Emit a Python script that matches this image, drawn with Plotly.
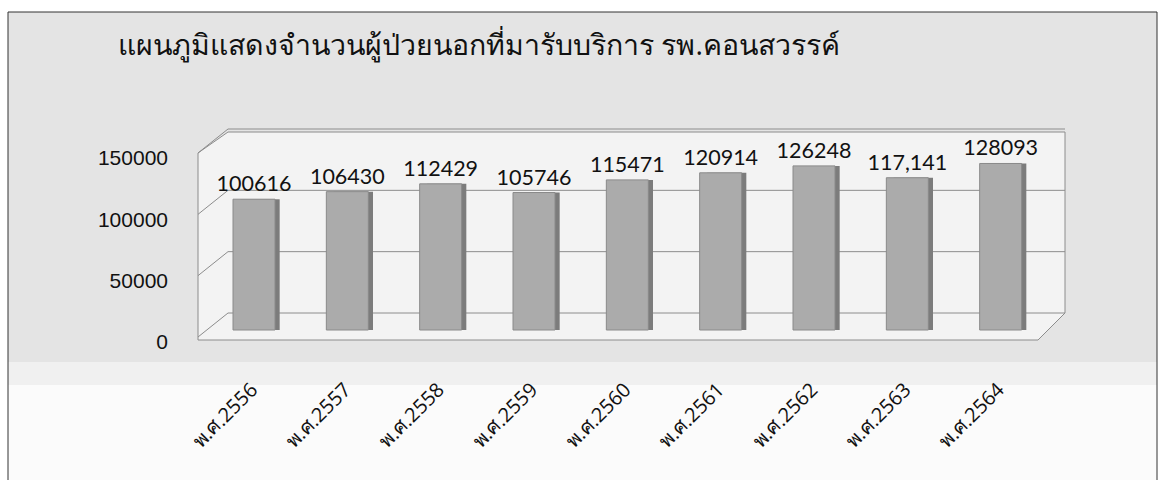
import plotly.graph_objects as go

# ---- data ----
categories = ["พ.ศ.2556", "พ.ศ.2557", "พ.ศ.2558", "พ.ศ.2559", "พ.ศ.2560",
              "พ.ศ.2561", "พ.ศ.2562", "พ.ศ.2563", "พ.ศ.2564"]
patients = [100616, 106430, 112429, 105746, 115471, 120914, 126248, 117141, 128093]
value_labels = ["100616", "106430", "112429", "105746", "115471",
                "120914", "126248", "117,141", "128093"]
y_tick_values = [0, 50000, 100000, 150000]
y_tick_labels = ["0", "50000", "100000", "150000"]
title_text = "แผนภูมิแสดงจำนวนผู้ป่วยนอกที่มารับบริการ รพ.คอนสวรรค์"

W, H = 1159, 480
def X(px): return px / W
def Y(py): return 1 - py / H

# plot area in pixels
x_left, x_right = 205, 1045
y_top, y_bottom = 120, 345

# scales (px per unit)
k_bar = 0.0013
k_axis = 184 / 150000
bar_zero, tick_zero, grid_zero = 330, 342, 313
bar_range = [-(y_bottom - bar_zero) / k_bar, (bar_zero - y_top) / k_bar]
tick_range = [-(y_bottom - tick_zero) / k_axis, (tick_zero - y_top) / k_axis]
grid_range = [-(y_bottom - grid_zero) / k_axis, (grid_zero - y_top) / k_axis]

fig = go.Figure()

# side face of 3D bars
fig.add_trace(go.Bar(
    x=categories, y=patients, width=0.42, offset=-0.12,
    marker=dict(color="#7c7c7c", line=dict(width=0)),
    hoverinfo="skip", showlegend=False,
))
# front face
fig.add_trace(go.Bar(
    x=categories, y=patients, width=0.45, offset=-0.2,
    marker=dict(color="#ababab", line=dict(color="#8a8a8a", width=1)),
    text=value_labels, textposition="outside", cliponaxis=False,
    constraintext="none",
    textfont=dict(family="Lato", size=21.5, color="#111111"),
    showlegend=False,
))
# invisible trace holding the tick axis
fig.add_trace(go.Scatter(
    x=[categories[0], categories[0]], y=[y_tick_values[0], y_tick_values[-1]],
    yaxis="y2", mode="markers", marker=dict(opacity=0), hoverinfo="skip",
    showlegend=False,
))
# invisible trace holding the grid axis
fig.add_trace(go.Scatter(
    x=[categories[0], categories[0]], y=[y_tick_values[0], y_tick_values[-1]],
    yaxis="y3", mode="markers", marker=dict(opacity=0), hoverinfo="skip",
    showlegend=False,
))

shapes = []
# figure background with border
shapes.append(dict(type="rect", xref="paper", yref="paper",
                   x0=X(8), x1=X(1157), y0=Y(362), y1=Y(12),
                   fillcolor="#e4e4e4", line=dict(width=0), layer="below"))
shapes.append(dict(type="rect", xref="paper", yref="paper",
                   x0=X(8), x1=X(1157), y0=Y(385), y1=Y(362),
                   fillcolor="#f0f0f0", line=dict(width=0), layer="below"))
shapes.append(dict(type="rect", xref="paper", yref="paper",
                   x0=X(8), x1=X(1157), y0=Y(480), y1=Y(385),
                   fillcolor="#fbfbfb", line=dict(width=0), layer="below"))
shapes.append(dict(type="path", xref="paper", yref="paper",
                   path=f"M{X(8)},{Y(482)} L{X(8)},{Y(12)} L{X(1157)},{Y(12)} L{X(1157)},{Y(482)}",
                   line=dict(color="#333333", width=1), layer="above"))
# 3D wall / floor
wall = (f"M{X(198)},{Y(340)} L{X(198)},{Y(153)} L{X(228)},{Y(132)} "
        f"L{X(1065)},{Y(132)} L{X(1065)},{Y(313)} L{X(1038)},{Y(340)} Z")
shapes.append(dict(type="path", xref="paper", yref="paper", path=wall,
                   fillcolor="#f3f3f3", line=dict(color="#8c8c8c", width=1), layer="below"))
# back wall gridlines (through y3 scale) and their left-wall diagonals
drop = 24 / k_axis
for v in y_tick_values:
    shapes.append(dict(type="line", xref="paper", yref="y3",
                       x0=X(228), x1=X(1065), y0=v, y1=v,
                       line=dict(color="#8c8c8c", width=1), layer="below"))
    shapes.append(dict(type="line", xref="paper", yref="y3",
                       x0=X(198), x1=X(228), y0=v - drop, y1=v,
                       line=dict(color="#8c8c8c", width=1), layer="below"))
# floor back-to-front edge on the right
shapes.append(dict(type="line", xref="paper", yref="paper",
                   x0=X(1038), x1=X(1065), y0=Y(340), y1=Y(313),
                   line=dict(color="#8c8c8c", width=1), layer="below"))

fig.update_layout(
    width=W, height=H,
    margin=dict(l=0, r=0, t=0, b=0, autoexpand=False),
    paper_bgcolor="white",
    plot_bgcolor="rgba(0,0,0,0)",
    barmode="overlay",
    shapes=shapes,
    title=dict(text=title_text, x=X(118), xanchor="left", y=Y(45), yanchor="middle",
               font=dict(size=28.5, color="#111111")),
    xaxis=dict(domain=[X(x_left), X(x_right)], showgrid=False, zeroline=False,
               showline=False, tickangle=-45, ticks="outside", ticklen=24,
               tickcolor="rgba(0,0,0,0)", automargin=False,
               tickfont=dict(size=20, color="#111111")),
    yaxis=dict(domain=[Y(y_bottom), Y(y_top)], range=bar_range, visible=False,
               automargin=False),
    yaxis2=dict(overlaying="y", range=tick_range, side="left", anchor="free",
                position=X(168), tickvals=y_tick_values, ticktext=y_tick_labels,
                showgrid=False, zeroline=False, showline=False, ticks="",
                automargin=False,
                tickfont=dict(family="Liberation Sans", size=21, color="#111111")),
    yaxis3=dict(overlaying="y", range=grid_range, visible=False, automargin=False),
)

fig.write_html("out.html", config={"displayModeBar": False})

# remove the browser's default page margin so the figure sits at (0, 0)
with open("out.html", encoding="utf-8") as f:
    html = f.read()
html = html.replace("<head>", "<head><style>html,body{margin:0;padding:0;overflow:hidden}</style>", 1)
with open("out.html", "w", encoding="utf-8") as f:
    f.write(html)
